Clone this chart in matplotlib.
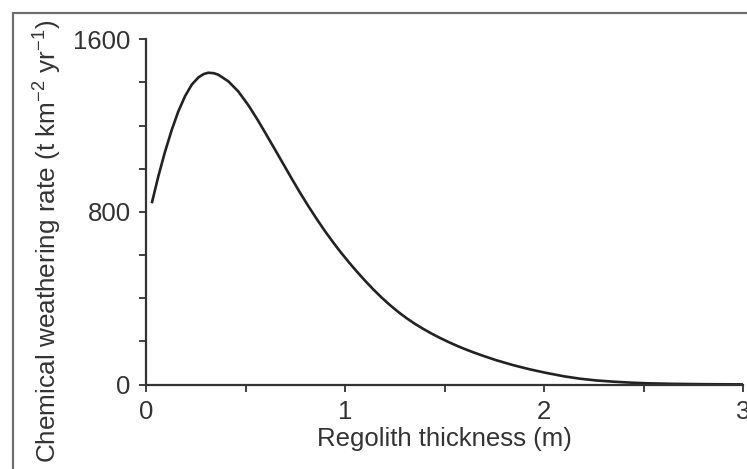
import matplotlib
matplotlib.use("Agg")
import matplotlib.pyplot as plt
from matplotlib.patches import Rectangle

plt.rcParams['font.family'] = ['Liberation Sans', 'DejaVu Sans']
plt.rcParams['mathtext.fontset'] = 'custom'
plt.rcParams['mathtext.rm'] = 'Liberation Sans'
plt.rcParams['mathtext.it'] = 'Liberation Sans:italic'
plt.rcParams['mathtext.bf'] = 'Liberation Sans:bold'

# Data
thickness = [0.029, 0.062, 0.095, 0.129, 0.162, 0.196, 0.230, 0.263, 0.290, 0.313,
             0.340, 0.363, 0.414, 0.464, 0.514, 0.560, 0.606, 0.650, 0.690, 0.733,
             0.774, 0.815, 0.858, 0.900, 0.941, 0.975, 1.020, 1.059, 1.100, 1.142,
             1.184, 1.226, 1.268, 1.310, 1.350, 1.393, 1.435, 1.477, 1.520, 1.561,
             1.603, 1.645, 1.700, 1.762, 1.844, 1.930, 2.010, 2.100, 2.180, 2.260,
             2.350, 2.440, 2.520, 2.650, 2.800, 3.000]
weathering = [840, 965, 1077, 1179, 1265, 1336, 1390, 1423, 1439, 1445,
              1443, 1436, 1405, 1358, 1295, 1228, 1156, 1086, 1022, 953,
              889, 828, 767, 710, 658, 617, 566, 524, 482, 441,
              403, 368, 336, 307, 282, 258, 236, 216, 197, 180,
              164, 149, 131, 112, 90, 70, 54, 38, 27, 19,
              13, 8.5, 5.5, 3, 1.5, 0.5]

xticks_major = [0, 1, 2, 3]
xticks_minor = [0.5, 1.5, 2.5]
yticks_major = [0, 800, 1600]
yticks_minor = [200, 400, 600, 1000, 1200, 1400]

W, H = 747, 469
fig = plt.figure(figsize=(W / 100, H / 100), dpi=100)
fig.patch.set_facecolor('white')

# outer frame (extends beyond the right and bottom edges)
fig.patches.append(Rectangle((13 / W, -0.2), 1.2, 1.2 - 13 / H,
                             transform=fig.transFigure, fill=False,
                             edgecolor='#6e6e6e', linewidth=1.6))

left, right = 146 / W, 743 / W
bottom, top = (H - 384.5) / H, (H - 39.3) / H
ax = fig.add_axes([left, bottom, right - left, top - bottom])

ink = '#333333'
ax.plot(thickness, weathering, color='#222222', linewidth=1.9, clip_on=False,
        solid_capstyle='butt', solid_joinstyle='round')

ax.set_xlim(0, 3)
ax.set_ylim(0, 1600)
for s in ['top', 'right']:
    ax.spines[s].set_visible(False)
for s in ['left', 'bottom']:
    ax.spines[s].set_linewidth(1.6)
    ax.spines[s].set_color(ink)

ax.set_xticks(xticks_major)
ax.set_xticks(xticks_minor, minor=True)
ax.set_yticks(yticks_major)
ax.set_yticks(yticks_minor, minor=True)
ax.tick_params(which='both', direction='out', length=5, width=1.3, color=ink,
               labelcolor=ink, labelsize=18.5, pad=6)

ax.set_xlabel('Regolith thickness (m)', fontsize=18.5, color=ink, labelpad=2)
ax.set_ylabel('Chemical weathering rate (t km$^{-2}$ yr$^{-1}$)', fontsize=18.8,
              color=ink)
ax.yaxis.set_label_coords((64 - 146) / (743 - 146), (384.5 - 241.5) / 345.2)

fig.savefig('out.png', dpi=100)
